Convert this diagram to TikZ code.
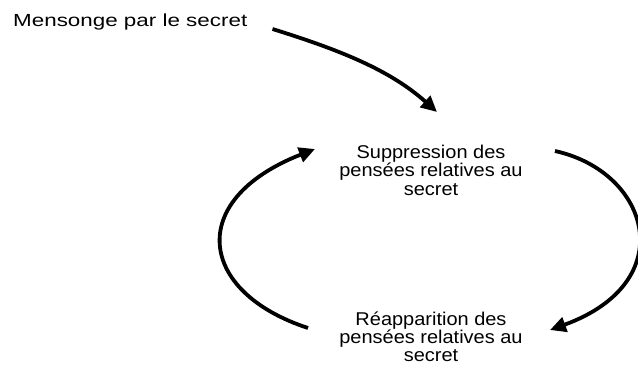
\documentclass[tikz,border=0pt]{standalone}
\usepackage{fontspec}
\setmainfont{Liberation Sans}
\newfontfamily\nodefont[FakeStretch=1.08]{Liberation Sans}
\newfontfamily\mensfont[FakeStretch=1.28]{Liberation Sans}
\usetikzlibrary{arrows.meta,calc}
\tikzset{
  txt/.style={align=center, inner sep=0pt, font=\nodefont\fontsize{18.5}{18.3}\selectfont},
  mtxt/.style={inner sep=0pt, font=\mensfont\fontsize{17.5}{20}\selectfont},
  conn/.style={line width=3.8pt, -{Triangle[length=16pt,width=15pt]}}
}
\begin{document}
\begin{tikzpicture}[x=1pt,y=-1pt]
\useasboundingbox (0,0) rectangle (638,365);
\node[mtxt, anchor=base west] (mens) at (13,26.7) {Mensonge par le secret};
% base anchor = baseline of the last line
\node[txt, anchor=base] (sup) at (431,195) {Suppression des\\pensées relatives au\\secret};
\node[txt, anchor=base] (rea) at (431,361.7) {Réapparition des\\pensées relatives au\\secret};
% connector end points tied to the nodes
\coordinate (m0) at ($(mens.base east)+(25,2.3)$);
\coordinate (m1) at ($(sup.base)+(6,-83)$);
\coordinate (r0) at ($(sup.base)+(124,-44)$);
\coordinate (r1) at ($(rea.base)+(119,-31.7)$);
\coordinate (l0) at ($(rea.base)+(-123,-33.7)$);
\coordinate (l1) at ($(sup.base)+(-116,-46)$);
\draw[conn] (m0) .. controls (340,50) and (390,70) .. (m1);
\draw[conn] (r0) .. controls (650,172) and (682,282) .. (r1);
\draw[conn] (l0) .. controls (198,292) and (185,200) .. (l1);
\end{tikzpicture}
\end{document}
